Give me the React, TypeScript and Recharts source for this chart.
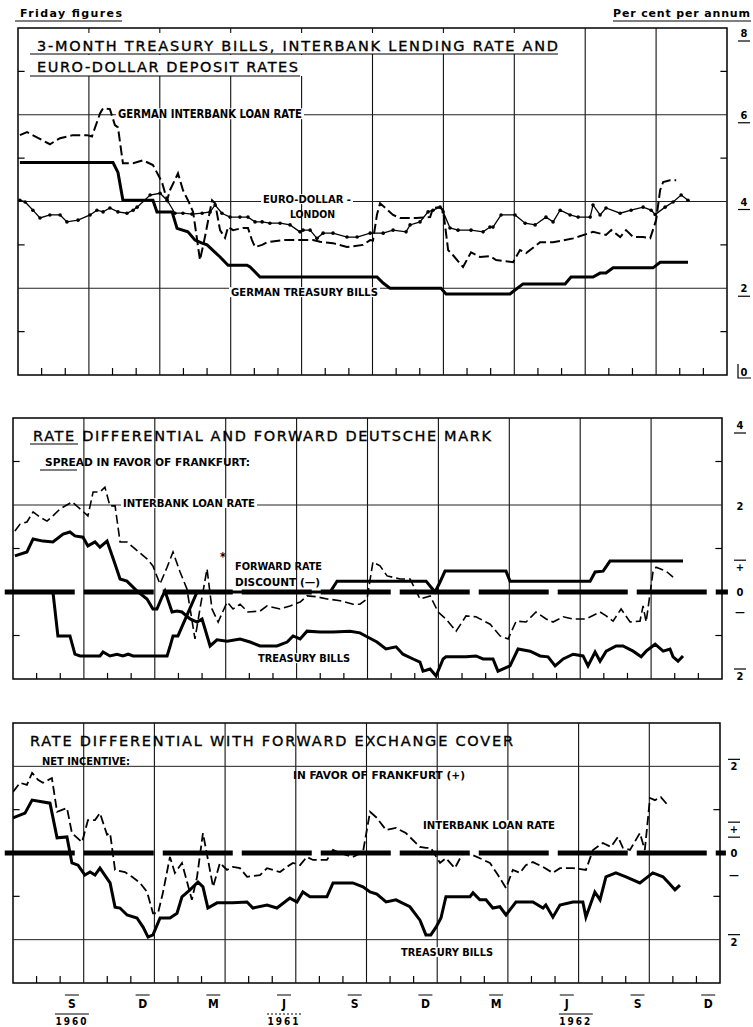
import React from 'react';
import { LineChart, Line, XAxis, YAxis, ReferenceLine, ReferenceArea } from 'recharts';

// x values are months since 1 July 1960 (0 = July 1960, 30 = January 1963)
const quarterLines = [3, 6, 9, 12, 15, 18, 21, 24, 27];
const monthTicks = [1, 2, 4, 5, 7, 8, 10, 11, 13, 14, 16, 17, 19, 20, 22, 23, 25, 26, 28, 29];
const monthLabelPos = [2.5, 5.5, 8.5, 11.5, 14.5, 17.5, 20.5, 23.5, 26.5, 29.5];
const monthLabels = ['S', 'D', 'M', 'J', 'S', 'D', 'M', 'J', 'S', 'D'];
const yearLabels = ['1960', '', '', '1961', '', '', '', '1962', '', ''];

// ---------- Panel 1: rates, per cent per annum ----------
const ibM1 = [0.08,0.38,0.8,1.35,1.78,2.33,2.92,3.13,3.47,3.6,3.89,4.1,4.23,4.44,4.87,5.29,5.71,6.09,6.31,6.43,6.77,6.98,7.19,7.41,7.7,7.91,8.21,8.34,8.55,8.76,8.89,9.1,9.52,9.73,9.9,10.03,10.33,10.54,11.21,11.93,12.48,12.78,13.33,13.92,14.6,14.9,15.02,15.19,15.32,15.87,16.17,16.84,17.44,17.56,17.86,17.99,18.2,18.41,18.83,19.17,19.55,19.97,20.23,20.95,21.24,21.5,22.09,22.64,23.49,24.33,24.88,25.1,25.48,25.73,26.03,26.45,26.75,27.0,27.17,27.3,27.59,27.85];
const ibV1 = [5.53,5.6,5.48,5.32,5.46,5.53,5.53,5.5,6.03,6.15,6.13,5.76,5.71,4.88,4.88,4.95,4.84,4.45,4.03,4.26,4.65,4.26,4.03,3.76,2.65,3.18,4.03,3.96,3.34,3.16,3.41,3.34,3.39,3.39,3.11,2.95,3.0,3.06,3.11,3.11,3.11,3.07,3.04,2.95,3.0,3.11,3.1,3.7,3.96,3.69,3.62,3.62,3.64,3.85,3.87,3.8,2.88,2.76,2.49,2.83,2.72,2.74,2.65,2.6,2.88,2.81,3.06,3.06,3.15,3.3,3.23,3.34,3.18,3.34,3.18,3.18,3.15,3.57,4.26,4.45,4.49,4.49];

const edM = [0.08,0.3,0.63,0.93,1.35,1.78,2.07,2.54,3.05,3.34,3.6,3.89,4.23,4.61,4.87,5.04,5.59,6.01,6.31,6.64,6.98,7.36,7.79,8.13,8.34,8.63,8.97,9.39,9.73,10.03,10.33,10.66,11.09,11.51,11.93,12.06,12.36,12.65,12.91,13.33,13.92,14.35,14.9,15.45,15.87,16.42,16.59,17.01,17.35,17.56,17.86,17.99,18.28,18.62,19.17,19.68,19.97,20.1,20.44,21.03,21.46,21.88,22.34,22.64,22.94,23.36,23.7,24.21,24.33,24.63,24.88,25.48,25.94,26.45,26.79,26.96,27.38,27.72,28.06,28.35];
const edV = [4.03,3.99,3.8,3.62,3.69,3.69,3.53,3.57,3.69,3.8,3.76,3.85,3.76,3.73,3.8,3.87,4.15,4.19,4.03,3.73,3.73,3.71,3.73,3.76,3.92,3.73,3.64,3.64,3.64,3.53,3.53,3.5,3.5,3.46,3.3,3.34,3.34,3.15,3.27,3.27,3.18,3.18,3.27,3.27,3.34,3.3,3.46,3.53,3.76,3.8,3.87,3.76,3.39,3.34,3.34,3.3,3.41,3.41,3.69,3.69,3.5,3.46,3.64,3.53,3.8,3.69,3.64,3.64,3.92,3.69,3.85,3.73,3.8,3.87,3.8,3.7,3.87,3.99,4.15,4.03];

const tbM1 = [0.08,4.02,4.23,4.44,5.71,5.88,6.52,6.73,7.19,7.49,7.79,8.0,8.55,8.89,9.69,9.82,10.24,15.19,15.45,15.74,17.9,18.11,20.82,21.03,21.37,23.15,23.4,24.33,24.63,24.88,25.18,26.87,27.17,28.35];
const tbV1 = [4.9,4.9,4.67,4.03,4.03,3.76,3.76,3.38,3.3,3.11,3.04,3.0,2.72,2.53,2.53,2.49,2.26,2.26,2.12,2.0,2.0,1.87,1.87,1.96,2.1,2.1,2.26,2.26,2.35,2.35,2.47,2.47,2.6,2.6];

// ---------- Panel 2: rate differential and forward DM ----------
const ibM2 = [0.08,0.3,0.59,0.85,1.14,1.44,1.69,1.99,2.5,2.84,3.17,3.39,3.68,3.89,4.1,4.32,4.53,4.82,5.08,5.67,5.92,6.22,6.52,6.77,7.07,7.36,7.7,7.91,8.21,8.42,8.68,9.06,9.31,9.61,9.94,10.45,10.75,11.3,11.72,12.15,12.44,12.86,13.29,13.84,14.39,14.68,14.98,15.23,15.53,15.83,16.38,16.8,17.22,17.65,17.99,18.32,18.75,19.17,19.59,20.19,20.61,20.95,21.29,21.71,22.13,22.56,22.85,23.28,23.7,24.25,24.84,25.1,25.39,25.73,26.11,26.53,26.66,26.79,27.08,27.21,27.63,27.93];
const ibV2 = [1.4,1.56,1.61,1.84,1.72,1.63,1.75,1.91,2.07,1.91,1.75,2.3,2.3,2.41,1.98,1.98,1.15,1.15,1.03,0.76,0.6,0.18,0.57,0.92,0.46,0.07,-1.08,-0.39,0.53,-0.39,-0.69,-0.23,-0.39,-0.28,-0.46,-0.44,-0.32,-0.39,-0.32,-0.23,-0.09,-0.11,-0.16,-0.2,-0.28,-0.28,-0.16,0.69,0.6,0.37,0.3,0.3,-0.16,-0.09,-0.46,-0.62,-0.9,-0.55,-0.57,-0.74,-1.01,-1.08,-0.67,-0.69,-0.46,-0.62,-0.69,-0.57,-0.62,-0.62,-0.46,-0.55,-0.67,-0.39,-0.69,-0.67,-0.32,-0.69,0.46,0.57,0.48,0.34];

const tbM2 = [0.08,0.59,0.85,1.27,1.69,2.12,2.41,2.62,2.96,3.17,3.47,3.68,3.98,4.32,4.53,4.82,5.25,5.67,5.92,6.09,6.31,6.43,6.73,6.94,7.15,7.49,7.79,8.0,8.34,8.63,9.06,9.61,10.03,10.45,11.17,11.6,11.85,12.15,12.44,12.99,13.54,14.26,14.68,14.98,15.4,15.78,16.21,16.5,16.93,17.22,17.35,17.65,17.9,18.2,18.32,19.17,19.59,19.89,20.31,20.52,21.03,21.37,21.88,22.3,22.64,22.94,23.28,23.7,24.12,24.33,24.63,24.84,25.1,25.52,25.81,26.24,26.58,26.79,27.17,27.51,27.8,27.93,28.14,28.35];
const tbV2 = [0.83,0.92,1.22,1.17,1.15,1.33,1.38,1.29,1.26,1.06,1.15,1.03,1.17,0.64,0.3,0.25,0.02,-0.16,-0.39,-0.39,-0.11,0.02,-0.46,-0.44,-0.46,-0.62,-0.69,-0.62,-1.24,-1.1,-1.13,-1.08,-1.15,-1.24,-1.24,-1.15,-1.01,-1.08,-0.9,-0.92,-0.92,-0.9,-0.94,-1.03,-1.15,-1.31,-1.26,-1.43,-1.54,-1.61,-1.82,-1.77,-1.93,-1.54,-1.49,-1.49,-1.47,-1.54,-1.54,-1.82,-1.7,-1.31,-1.36,-1.47,-1.49,-1.7,-1.54,-1.43,-1.47,-1.7,-1.38,-1.59,-1.36,-1.24,-1.24,-1.36,-1.49,-1.36,-1.2,-1.36,-1.31,-1.49,-1.59,-1.47];

const fwM = [0,1.69,1.9,2.41,2.62,2.84,3.68,3.81,4.1,4.4,4.65,4.87,5.08,6.52,6.64,6.77,6.98,7.79,13.42,13.71,17.48,17.69,17.86,18.07,18.28,20.86,21.03,24.42,24.63,24.97,25.26,28.35];
const fwV = [0,0,-1.01,-1.01,-1.43,-1.47,-1.47,-1.38,-1.47,-1.43,-1.47,-1.43,-1.47,-1.47,-1.26,-1.01,-1.01,0,0,0.25,0.25,0.11,0,0.23,0.48,0.48,0.25,0.25,0.46,0.48,0.71,0.71];

// ---------- Panel 3: rate differential with forward exchange cover ----------
const ibM3 = [0,0.3,0.59,0.81,1.06,1.27,1.65,1.87,2.29,2.5,2.93,3.18,3.48,3.69,3.99,4.12,4.33,4.75,5.05,5.39,5.69,5.94,6.15,6.36,6.66,6.87,7.17,7.59,7.81,8.06,8.49,8.78,9.08,9.33,9.63,9.93,10.48,10.78,11.33,11.62,11.88,12.18,12.47,12.73,13.32,13.58,13.87,14.42,14.85,15.15,15.44,15.83,16.25,16.67,17.27,17.52,17.73,18.12,18.37,18.75,19.09,19.52,19.81,20.24,20.58,20.92,21.21,21.51,21.76,22.06,22.49,22.91,23.21,23.76,24.31,24.61,25.03,25.37,25.67,25.88,26.18,26.6,26.81,27.03,27.24,27.49,27.79];
const ibV3 = [1.41,1.62,1.57,1.85,1.69,1.62,1.73,0.95,1.04,0.46,0.25,0.76,0.76,0.92,0.42,0.46,-0.39,-0.44,-0.55,-0.69,-0.9,-1.39,-1.39,-0.92,-0.09,-0.46,-0.23,-1.08,-0.55,0.46,-0.78,-0.23,-0.39,-0.32,-0.35,-0.55,-0.51,-0.35,-0.44,-0.32,-0.23,-0.28,-0.09,-0.16,-0.16,0.07,0,-0.09,0.02,0.95,0.81,0.53,0.58,0.46,0.14,0.12,0.12,-0.23,-0.12,-0.35,0,-0.05,-0.12,-0.23,-0.51,-0.81,-0.39,-0.46,-0.28,-0.21,-0.32,-0.46,-0.35,-0.35,-0.39,0.07,0.23,0.14,0.37,0.12,0.07,0.46,0.07,1.27,1.22,1.29,1.1];

const tbM3 = [0,0.51,0.81,1.57,1.87,2.29,2.5,2.76,3.05,3.27,3.48,3.69,4.12,4.33,4.54,4.84,5.26,5.52,5.73,5.94,6.24,6.66,6.96,7.17,7.51,7.85,8.06,8.27,8.66,9.33,9.93,10.18,10.78,11.2,11.75,12.05,12.3,12.6,13.32,13.58,14.42,14.85,15.15,15.44,15.83,16.25,16.84,17.27,17.52,17.73,17.95,18.16,18.37,19.39,19.52,19.81,20.07,20.36,20.66,20.92,21.34,22.06,22.49,22.61,22.91,23.21,23.76,24.18,24.31,24.69,24.91,25.16,25.58,26.01,26.6,27.15,27.58,27.79,28.09,28.3];
const tbV3 = [0.81,0.92,1.22,1.15,0.35,0.37,-0.23,-0.28,-0.51,-0.44,-0.51,-0.35,-0.69,-1.25,-1.27,-1.43,-1.5,-1.71,-1.94,-1.89,-1.5,-1.5,-1.39,-1.01,-0.85,-0.67,-0.78,-1.27,-1.15,-1.15,-1.13,-1.27,-1.2,-1.27,-1.04,-1.13,-0.9,-1.01,-1.01,-0.69,-0.69,-0.78,-0.9,-0.95,-1.13,-1.08,-1.24,-1.55,-1.89,-1.89,-1.71,-1.5,-1.01,-1.01,-0.92,-1.08,-1.08,-1.27,-1.24,-1.43,-1.13,-1.13,-1.27,-1.2,-1.48,-1.2,-1.13,-1.13,-1.48,-0.9,-1.08,-0.55,-0.46,-0.55,-0.69,-0.46,-0.55,-0.67,-0.85,-0.74];

// right-hand scale labels
const p1Ticks = [8, 6, 4, 2, 0];
const p1Labels = ['8', '6', '4', '2', '0'];
const p2Ticks = [4, 2, 0.57, 0, -0.46, -2];
const p2Labels = ['4', '2', '+', '0', '\u2014', '2'];
const p3Ticks = [2, 0.55, 0, -0.5, -2];
const p3Labels = ['2', '+', '0', '\u2014', '2'];

type Pt = { m: number; v: number };
const zip = (m: number[], v: number[]): Pt[] => m.map((x, i) => ({ m: x, v: v[i] }));

const FONT_LBL = '"DejaVu Sans Condensed", "Liberation Sans Narrow", "DejaVu Sans", sans-serif';
const FONT_TITLE = '"DejaVu Sans", "Open Sans", sans-serif';

function gridEls(prefix: string, yMin: number, yMax: number, yGrid: number[], yMinor: number[], tickLen: number) {
  const els: any[] = [];
  quarterLines.forEach((q) =>
    els.push(<ReferenceLine key={prefix + 'q' + q} x={q} stroke="#111" strokeWidth={1.1} />)
  );
  yGrid.forEach((g) =>
    els.push(<ReferenceLine key={prefix + 'g' + g} y={g} stroke="#222" strokeWidth={1} />)
  );
  monthTicks.forEach((t) =>
    els.push(
      <ReferenceLine key={prefix + 't' + t} segment={[{ x: t, y: yMin }, { x: t, y: yMin + tickLen }]} stroke="#000" strokeWidth={1.2} />
    )
  );
  yMinor.forEach((v) => {
    els.push(<ReferenceLine key={prefix + 'ml' + v} segment={[{ x: 0, y: v }, { x: 0.28, y: v }]} stroke="#000" strokeWidth={1.2} />);
    els.push(<ReferenceLine key={prefix + 'mr' + v} segment={[{ x: 29.72, y: v }, { x: 30, y: v }]} stroke="#000" strokeWidth={1.2} />);
  });
  els.push(
    <ReferenceArea key={prefix + 'frame'} x1={0} x2={30} y1={yMin} y2={yMax} fill="#fff" fillOpacity={0} stroke="#000" strokeWidth={1.5} />
  );
  return els;
}

function zeroLine(key: string) {
  return (
    <ReferenceLine
      key={key}
      segment={[{ x: -0.35, y: 0 }, { x: 30.25, y: 0 }]}
      stroke="#000"
      strokeWidth={5}
      strokeDasharray="70 9"
      ifOverflow="visible"
    />
  );
}

function makeRightTick(vals: number[], labels: string[], decos: string[], dys: number[], dx: number) {
  return (p: any) => {
    const i = vals.indexOf(p.payload.value);
    if (i < 0) return <g />;
    const cx = p.x + dx;
    const cy = p.y + dys[i];
    const d = decos[i];
    return (
      <g>
        <text x={cx} y={cy + 4} textAnchor="middle" fontFamily={FONT_LBL} fontWeight={700} fontSize={11} fill="#000">
          {labels[i]}
        </text>
        {(d === 'under' || d === 'overunder') && <line x1={cx - 6} x2={cx + 6} y1={cy + 8} y2={cy + 8} stroke="#000" strokeWidth={1.2} />}
        {(d === 'over' || d === 'overunder') && <line x1={cx - 6} x2={cx + 6} y1={cy - 7} y2={cy - 7} stroke="#000" strokeWidth={1.2} />}
        {d === 'bracket' && <path d={`M${cx - 6} ${cy - 8} L${cx - 6} ${cy + 6} L${cx + 7} ${cy + 6}`} stroke="#000" strokeWidth={1.2} fill="none" />}
      </g>
    );
  };
}

const yearDx = [0, 0, 0, 0, 0, 0, 0, 9, 0, 0];

function bottomTick(p: any) {
  const i = monthLabelPos.indexOf(p.payload.value);
  if (i < 0) return <g />;
  const x = p.x;
  const y = p.y;
  const yr = yearLabels[i];
  const yx = x + yearDx[i];
  return (
    <g>
      <line x1={x - 7} x2={x + 7} y1={y + 12} y2={y + 12} stroke="#000" strokeWidth={1} />
      <text x={x} y={y + 25} textAnchor="middle" fontFamily={FONT_LBL} fontWeight={700} fontSize={12} fill="#000">
        {monthLabels[i]}
      </text>
      {yr && (
        <g>
          <line x1={yx - 17} x2={yx + 17} y1={y + 31} y2={y + 31} stroke="#000" strokeWidth={1} strokeDasharray={i === 3 ? '2 2' : undefined} />
          <text x={yx} y={y + 42} textAnchor="middle" fontFamily={FONT_LBL} fontWeight={700} fontSize={10} letterSpacing={2} fill="#000">
            {yr}
          </text>
        </g>
      )}
    </g>
  );
}

function Lbl(props: { x: number; y: number; w: number; size?: number; text: string; bg?: boolean; kind?: string }) {
  const { x, y, w, text, bg, kind = 'lbl' } = props;
  const size = props.size ?? 11;
  const isTitle = kind === 'title';
  const isHdr = kind === 'hdr';
  return (
    <g>
      {bg && <rect x={x - 2} y={y - size * 0.8} width={w + 4} height={size * 0.9} fill="#fff" />}
      <text
        x={x}
        y={y}
        fontSize={size}
        fontFamily={isTitle || isHdr ? FONT_TITLE : FONT_LBL}
        fontWeight={isTitle ? 400 : 700}
        textLength={w}
        lengthAdjust={isTitle || isHdr ? 'spacing' : 'spacingAndGlyphs'}
        fill="#000"
        stroke={isTitle ? '#000' : undefined}
        strokeWidth={isTitle ? 0.35 : undefined}
      >
        {text}
      </text>
    </g>
  );
}

export default function App() {
  return (
    <div style={{ position: 'absolute', left: 0, top: 0, width: 753, height: 1027, background: '#fff', overflow: 'hidden' }}>
      {/* Panel 1 */}
      <div style={{ position: 'absolute', left: 0, top: 0 }}>
        <LineChart width={753} height={390} margin={{ top: 28, right: 0, bottom: 15, left: 18 }}>
          <XAxis type="number" dataKey="m" domain={[0, 30]} hide allowDataOverflow />
          <YAxis
            orientation="right"
            type="number"
            domain={[0, 8]}
            ticks={p1Ticks}
            interval={0}
            width={26}
            tickLine={false}
            axisLine={false}
            tickSize={0}
            tickMargin={0}
            tick={makeRightTick(p1Ticks, p1Labels, ['under', 'under', 'under', 'under', 'bracket'], [5, 0, 0, 0, -3], 17)}
          />
          {gridEls('a', 0, 8, [6, 4, 2], [7, 5, 3, 1], 0.16)}
          <Line data={zip(ibM1, ibV1)} dataKey="v" type="linear" stroke="#000" strokeWidth={2} strokeDasharray="10 4" dot={false} isAnimationActive={false} />
          <Line data={zip(edM, edV)} dataKey="v" type="linear" stroke="#000" strokeWidth={1.3} dot={{ r: 1.8, fill: '#000', stroke: '#000', strokeWidth: 0 }} isAnimationActive={false} />
          <Line data={zip(tbM1, tbV1)} dataKey="v" type="linear" stroke="#000" strokeWidth={3} dot={false} isAnimationActive={false} />
        </LineChart>
      </div>

      {/* Panel 2 */}
      <div style={{ position: 'absolute', left: 0, top: 400 }}>
        <LineChart width={753} height={300} margin={{ top: 18, right: 0, bottom: 21, left: 13 }}>
          <XAxis type="number" dataKey="m" domain={[0, 30]} hide allowDataOverflow />
          <YAxis
            orientation="right"
            type="number"
            domain={[-2, 4]}
            ticks={p2Ticks}
            interval={0}
            width={31}
            tickLine={false}
            axisLine={false}
            tickSize={0}
            tickMargin={0}
            tick={makeRightTick(p2Ticks, p2Labels, ['under', '', 'over', '', '', 'over'], [7, 1, 0, 0, 0, -3], 18)}
          />
          {gridEls('b', -2, 4, [2], [3, 1, -1], 0.14)}
          {zeroLine('bz')}
          <Line data={zip(ibM2, ibV2)} dataKey="v" type="linear" stroke="#000" strokeWidth={1.6} strokeDasharray="9 4" dot={false} isAnimationActive={false} />
          <Line data={zip(fwM, fwV)} dataKey="v" type="linear" stroke="#000" strokeWidth={3} dot={false} isAnimationActive={false} />
          <Line data={zip(tbM2, tbV2)} dataKey="v" type="linear" stroke="#000" strokeWidth={3} dot={false} isAnimationActive={false} />
        </LineChart>
      </div>

      {/* Panel 3 */}
      <div style={{ position: 'absolute', left: 0, top: 700 }}>
        <LineChart width={753} height={327} margin={{ top: 23, right: 0, bottom: 0, left: 13 }}>
          <XAxis
            type="number"
            dataKey="m"
            domain={[0, 30]}
            ticks={monthLabelPos}
            interval={0}
            height={44}
            tickLine={false}
            axisLine={false}
            tickSize={0}
            tickMargin={0}
            tick={bottomTick}
            allowDataOverflow
          />
          <YAxis
            orientation="right"
            type="number"
            domain={[-3, 3]}
            ticks={p3Ticks}
            interval={0}
            width={33}
            tickLine={false}
            axisLine={false}
            tickSize={0}
            tickMargin={0}
            tick={makeRightTick(p3Ticks, p3Labels, ['over', 'overunder', '', '', 'over'], [0, 0, 0, 0, 2], 14)}
          />
          {gridEls('c', -3, 3, [2, -2], [1, -1], 0.16)}
          {zeroLine('cz')}
          <Line data={zip(ibM3, ibV3)} dataKey="v" type="linear" stroke="#000" strokeWidth={1.8} strokeDasharray="9 4" dot={false} isAnimationActive={false} />
          <Line data={zip(tbM3, tbV3)} dataKey="v" type="linear" stroke="#000" strokeWidth={3} dot={false} isAnimationActive={false} />
        </LineChart>
      </div>

      {/* Titles and annotations */}
      <svg width={753} height={1027} style={{ position: 'absolute', left: 0, top: 0, pointerEvents: 'none' }}>
        <Lbl x={20} y={17} w={102} size={11} text="Friday figures" kind="hdr" />
        <line x1={15} x2={122} y1={21} y2={21} stroke="#000" strokeWidth={1} />
        <Lbl x={613} y={17} w={137} size={11} text="Per cent per annum" kind="hdr" />
        <line x1={613} x2={751} y1={21} y2={21} stroke="#000" strokeWidth={1} />

        <rect x={30} y={33} width={530} height={21} fill="#fff" />
        <rect x={30} y={55} width={273} height={21} fill="#fff" />
        <Lbl x={37} y={51} w={521} size={14.5} text="3-MONTH TREASURY BILLS, INTERBANK LENDING RATE AND" kind="title" />
        <line x1={30} x2={558} y1={54} y2={54} stroke="#000" strokeWidth={1} />
        <Lbl x={37} y={72} w={261} size={14.5} text="EURO-DOLLAR DEPOSIT RATES" kind="title" />
        <line x1={30} x2={300} y1={76} y2={76} stroke="#000" strokeWidth={1} />
        <Lbl x={118} y={118} w={184} size={12} text="GERMAN INTERBANK LOAN RATE" bg />
        <Lbl x={263} y={203} w={88} size={11} text="EURO-DOLLAR -" bg />
        <Lbl x={290} y={218} w={45} size={11} text="LONDON" />
        <Lbl x={231} y={296} w={147} size={11} text="GERMAN TREASURY BILLS" bg />

        <Lbl x={33} y={441} w={458} size={14.5} text="RATE DIFFERENTIAL AND FORWARD DEUTSCHE MARK" kind="title" />
        <line x1={30} x2={78} y1={444} y2={444} stroke="#000" strokeWidth={1} />
        <Lbl x={45} y={466} w={205} size={11} text="SPREAD IN FAVOR OF FRANKFURT:" />
        <line x1={40} x2={77} y1={470} y2={470} stroke="#000" strokeWidth={1} />
        <Lbl x={123} y={507} w={132} size={11} text="INTERBANK LOAN RATE" bg />
        <text x={220} y={561} fontSize={12} fontFamily={FONT_LBL} fontWeight={700}>*</text>
        <Lbl x={235} y={570} w={87} size={11} text="FORWARD RATE" />
        <Lbl x={235} y={586} w={85} size={11} text="DISCOUNT (—)" />
        <Lbl x={258} y={662} w={92} size={11} text="TREASURY BILLS" bg />

        <Lbl x={30} y={746} w={483} size={14.5} text="RATE DIFFERENTIAL WITH FORWARD EXCHANGE COVER" kind="title" />
        <Lbl x={42} y={765} w={88} size={10.5} text="NET INCENTIVE:" />
        <Lbl x={293} y={779} w={172} size={11} text="IN FAVOR OF FRANKFURT (+)" />
        <Lbl x={423} y={829} w={132} size={11} text="INTERBANK LOAN RATE" bg />
        <Lbl x={401} y={956} w={92} size={11} text="TREASURY BILLS" bg />
      </svg>
    </div>
  );
}
